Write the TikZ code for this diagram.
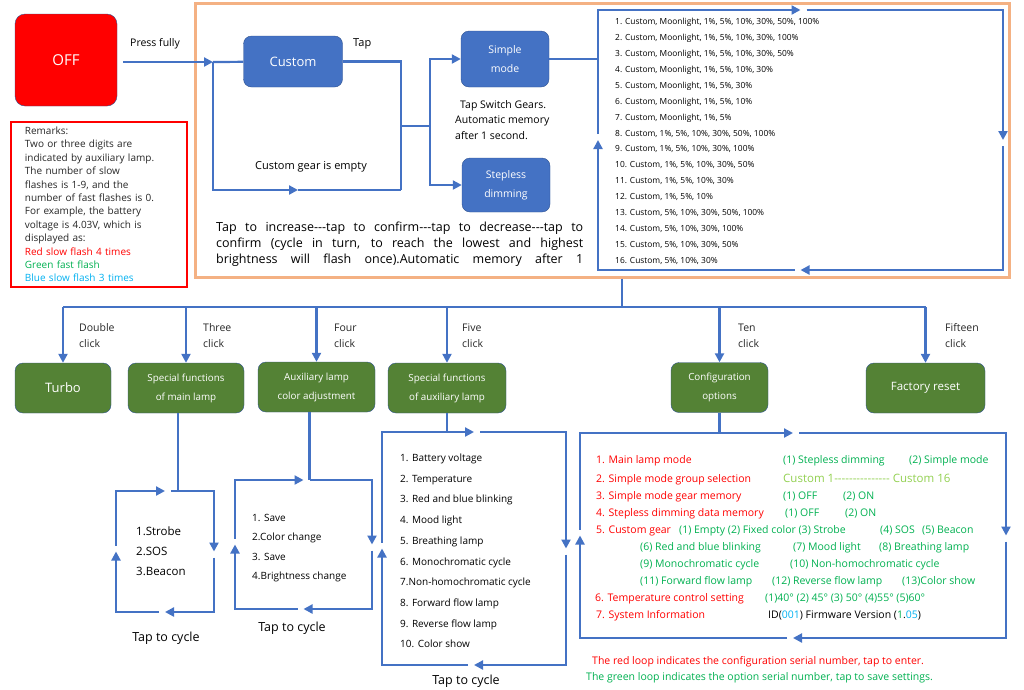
\documentclass[tikz,border=0pt]{standalone}
\usepackage{fontspec}
\setmainfont{Open Sans}
\usetikzlibrary{arrows.meta,calc}

\definecolor{flowblue}{HTML}{4472C4}
\definecolor{boxline}{HTML}{2F528F}
\definecolor{lampgreen}{HTML}{548235}
\definecolor{framepeach}{HTML}{F4B183}
\definecolor{optgreen}{HTML}{00B050}
\definecolor{lightgreen}{HTML}{92D050}
\definecolor{infoblue}{HTML}{00B0F0}
\definecolor{warnred}{HTML}{FF0000}

\tikzset{
  flow/.style={draw=flowblue, line width=2.2pt},
  arr/.style={-{Triangle[length=9pt,width=9pt]}},
  bluebox/.style={draw=boxline, fill=flowblue, rounded corners=8pt, text=white, align=center},
  greenbox/.style={draw=boxline, fill=lampgreen, rounded corners=8pt, text=white, align=center, minimum height=50pt},
  txt/.style={inner sep=0pt, anchor=west, text height=0.72em, text depth=0.22em},
  clicklabel/.style={anchor=west, align=left, inner sep=0pt, text=black!85, font=\fontsize{10.5}{16}\selectfont},
  redtxt/.style={txt, text=warnred},
  greentxt/.style={txt, text=optgreen}
}

% one "tap to cycle" loop: name, left, top, right, bottom
\newcommand{\tapcycle}[5]{%
  \coordinate (#1-nw) at (#2,#3);
  \coordinate (#1-ne) at (#4,#3);
  \coordinate (#1-se) at (#4,#5);
  \coordinate (#1-sw) at (#2,#5);
  \coordinate (#1-n) at ($(#1-nw)!0.5!(#1-ne)$);
  \coordinate (#1-e) at ($(#1-ne)!0.5!(#1-se)$);
  \coordinate (#1-s) at ($(#1-sw)!0.5!(#1-se)$);
  \coordinate (#1-w) at ($(#1-nw)!0.5!(#1-sw)$);
  \draw[flow,arr] ($(#1-w)+(0,-6)$) -- (#1-nw) -- (#1-n);
  \draw[flow,arr] ($(#1-n)+(6,0)$) -- (#1-ne) -- (#1-e);
  \draw[flow,arr] ($(#1-e)+(0,6)$) -- (#1-se) -- (#1-s);
  \draw[flow,arr] ($(#1-s)+(-6,0)$) -- (#1-sw) -- (#1-w);
}

\begin{document}
\begin{tikzpicture}[x=1pt,y=-1pt]
  \useasboundingbox (0,0) rectangle (1024,689);

  % start and remarks
  \node[draw=boxline, fill=warnred, rounded corners=10pt, text=white, minimum width=102pt, minimum height=92pt, font=\fontsize{15}{18}\selectfont] (off) at (66,60) {OFF};
  \node[anchor=west, inner sep=0pt, font=\fontsize{10.5}{13}\selectfont] (press) at (130,44) {Press fully};
  \node[draw=warnred, line width=1.8pt, anchor=north west, text width=148pt, inner xsep=14pt, inner ysep=5pt, align=left, text=black!85, font=\fontsize{10}{13.4}\selectfont] (remarks) at (10,121) {Remarks:\\Two or three digits are\\indicated by auxiliary lamp.\\The number of slow\\flashes is 1-9, and the\\number of fast flashes is 0.\\For example, the battery\\voltage is 4.03V, which is\\displayed as:\\\textcolor{warnred}{Red slow flash 4 times}\\\textcolor{optgreen}{Green fast flash}\\\textcolor{infoblue}{Blue slow flash 3 times}};

  % tap menu
  \node[draw=framepeach, line width=3pt, minimum width=814pt, minimum height=274pt] (modes) at (602,140) {};
  \node[bluebox, minimum width=99pt, minimum height=51pt, font=\fontsize{13}{16}\selectfont] (custom) at (293,61.5) {Custom};
  \node[anchor=west, inner sep=0pt, font=\fontsize{11}{13}\selectfont] (tap) at (353,44) {Tap};
  \node[bluebox, minimum width=88pt, minimum height=56pt, font=\fontsize{10.5}{19}\selectfont] (simple) at (505,59) {Simple\\mode};
  \node[bluebox, minimum width=88pt, minimum height=54pt, font=\fontsize{10.5}{19}\selectfont] (stepless) at (506,185) {Stepless\\dimming};
  \node[anchor=north west, inner sep=0pt, align=left, font=\fontsize{10.5}{15.5}\selectfont] (gears) at (455,100) {\hspace{5pt}Tap Switch Gears.\\Automatic memory\\after 1 second.};
  \node[anchor=center, inner sep=0pt, font=\fontsize{11}{13}\selectfont] (emptylabel) at (311,167) {Custom gear is empty};
  \node[anchor=north west, inner sep=0pt, text width=367pt, align=justify, font=\fontsize{12.5}{15.8}\selectfont] (stepnote) at (216,222) {Tap to increase-{}-{}-tap to confirm-{}-{}-tap to decrease-{}-{}-tap to\linebreak confirm (cycle in turn, to reach the lowest and highest\linebreak brightness will flash once).Automatic memory after 1\parfillskip=0pt\par};

  \coordinate (entry) at (213,62);
  \coordinate (emptytip) at (298,190);
  \coordinate (emptyend) at (401,190);
  \coordinate (join) at (401,126);
  \coordinate (split) at (430,126);
  \draw[flow,arr] ([xshift=6pt]off.east |- entry) -- (entry);
  \draw[flow] (entry) -- (custom);
  \draw[flow,arr] (entry) |- (emptytip);
  \draw[flow] (emptytip) -- (emptyend);
  \draw[flow] (custom.east) -| (emptyend);
  \draw[flow] (join) -- (split);
  \draw[flow,arr] (split) |- (simple.west);
  \draw[flow,arr] (split) |- (stepless.west);

  % simple mode groups
  \tapcycle{groups}{598}{10}{1003}{270}
  \draw[flow] (simple.east) -- (simple.east -| groups-nw);
  \foreach \lvl [count=\i] in {{Moonlight, 1\%, 5\%, 10\%, 30\%, 50\%, 100\%},{Moonlight, 1\%, 5\%, 10\%, 30\%, 100\%},{Moonlight, 1\%, 5\%, 10\%, 30\%, 50\%},{Moonlight, 1\%, 5\%, 10\%, 30\%},{Moonlight, 1\%, 5\%, 30\%},{Moonlight, 1\%, 5\%, 10\%},{Moonlight, 1\%, 5\%},{1\%, 5\%, 10\%, 30\%, 50\%, 100\%},{1\%, 5\%, 10\%, 30\%, 100\%},{1\%, 5\%, 10\%, 30\%, 50\%},{1\%, 5\%, 10\%, 30\%},{1\%, 5\%, 10\%},{5\%, 10\%, 30\%, 50\%, 100\%},{5\%, 10\%, 30\%, 100\%},{5\%, 10\%, 30\%, 50\%},{5\%, 10\%, 30\%}}
    \node[txt, font=\fontsize{8.4}{10}\selectfont] (group\i) at (615,{22+15.93*(\i-1)}) {\i. Custom, \lvl};

  % click menu
  \coordinate (trunk) at (622,307);
  \node[greenbox, minimum width=96pt, font=\fontsize{13}{16}\selectfont] (turbo) at (63,388) {Turbo};
  \node[greenbox, minimum width=116pt, font=\fontsize{9.8}{19}\selectfont] (mainfx) at (186,388) {Special functions\\of main lamp};
  \node[greenbox, minimum width=117pt, font=\fontsize{9.8}{19}\selectfont] (auxcolor) at (316.5,387) {Auxiliary lamp\\color adjustment};
  \node[greenbox, minimum width=118pt, font=\fontsize{9.8}{19}\selectfont] (auxfx) at (447,388) {Special functions\\of auxiliary lamp};
  \node[greenbox, minimum width=97pt, font=\fontsize{9.8}{19}\selectfont] (config) at (719.5,387.5) {Configuration\\options};
  \node[greenbox, minimum width=119pt, font=\fontsize{11.5}{14}\selectfont] (factory) at (925.5,388) {Factory reset};
  \draw[flow] (modes.south -| trunk) -- (trunk);
  \draw[flow] (turbo.north |- trunk) -- (factory.north |- trunk);
  \foreach \n in {turbo,mainfx,auxcolor,auxfx,config,factory}
    \draw[flow,arr] (\n.north |- trunk) -- (\n.north);
  \node[clicklabel] (c2) at (79,336) {Double\\click};
  \node[clicklabel] (c3) at (203,336) {Three\\click};
  \node[clicklabel] (c4) at (334,336) {Four\\click};
  \node[clicklabel] (c5) at (462,336) {Five\\click};
  \node[clicklabel] (c10) at (738,336) {Ten\\click};
  \node[clicklabel] (c15) at (945,336) {Fifteen\\click};

  % main lamp functions
  \tapcycle{strobe}{116}{491}{214}{612}
  \draw[flow] ([xshift=-8pt]mainfx.south) -- ([xshift=-8pt]mainfx.south |- strobe-nw);
  \foreach \fx [count=\i] in {1.Strobe,2.SOS,3.Beacon}
    \node[txt, font=\fontsize{11.5}{14}\selectfont] (strobe\i) at (136,{533+20*(\i-1)}) {\fx};
  \node[font=\fontsize{12.5}{15}\selectfont] (tapa) at (166,638) {Tap to cycle};

  % auxiliary colour
  \tapcycle{color}{235}{480}{372}{609}
  \draw[flow] ([xshift=-7pt]auxcolor.south) -- ([xshift=-7pt]auxcolor.south |- color-nw);
  \foreach \fx [count=\i] in {1. Save,2.Color change,3. Save,4.Brightness change}
    \node[txt, font=\fontsize{10}{12}\selectfont] (color\i) at (252,{519+19.3*(\i-1)}) {\fx};
  \node[font=\fontsize{12.5}{15}\selectfont] (tapb) at (292,628) {Tap to cycle};

  % auxiliary functions
  \tapcycle{auxlist}{382}{432}{566}{665}
  \draw[flow] (auxfx.south) -- (auxfx.south |- auxlist-nw);
  \foreach \fx [count=\i] in {1. Battery voltage,2. Temperature,3. Red and blue blinking,4. Mood light,5. Breathing lamp,6. Monochromatic cycle,7.Non-homochromatic cycle,8. Forward flow lamp,9. Reverse flow lamp,10. Color show}
    \node[txt, font=\fontsize{10}{12}\selectfont] (aux\i) at (400,{459+20.7*(\i-1)}) {\fx};
  \node[font=\fontsize{12.5}{15}\selectfont] (tapc) at (466,681) {Tap to cycle};

  % configuration
  \tapcycle{setup}{580}{433}{1006}{638}
  \draw[flow] (config.south) -- (config.south |- setup-nw);
  \begin{scope}[font=\fontsize{10.5}{12}\selectfont]
    \node[redtxt] (s1) at (596,461) {1. Main lamp mode};
    \node[greentxt] (s1a) at (783,461) {(1) Stepless dimming};
    \node[greentxt] (s1b) at (909,461) {(2) Simple mode};
    \node[redtxt] (s2) at (596,480) {2. Simple mode group selection};
    \node[txt, text=lightgreen, font=\fontsize{11.5}{13}\selectfont] (s2a) at (783,480) {Custom 1-{}-{}-{}-{}-{}-{}-{}-{}-{}-{}-{}-{}-{}-{}-{} Custom 16};
    \node[redtxt] (s3) at (596,497) {3. Simple mode gear memory};
    \node[greentxt] (s3a) at (783,497) {(1) OFF};
    \node[greentxt] (s3b) at (843,497) {(2) ON};
    \node[redtxt] (s4) at (596,514) {4. Stepless dimming data memory};
    \node[greentxt] (s4a) at (785,514) {(1) OFF};
    \node[greentxt] (s4b) at (845,514) {(2) ON};
    \node[redtxt] (s5) at (596,531) {5. Custom gear};
    \node[greentxt] (s5a) at (679,531) {(1) Empty (2) Fixed color (3) Strobe};
    \node[greentxt] (s5b) at (880,531) {(4) SOS};
    \node[greentxt] (s5c) at (922,531) {(5) Beacon};
    \node[greentxt] (s5d) at (640,548) {(6) Red and blue blinking};
    \node[greentxt] (s5e) at (793,548) {(7) Mood light};
    \node[greentxt] (s5f) at (879,548) {(8) Breathing lamp};
    \node[greentxt] (s5g) at (640,565) {(9) Monochromatic cycle};
    \node[greentxt] (s5h) at (790,565) {(10) Non-homochromatic cycle};
    \node[greentxt] (s5i) at (640,582) {(11) Forward flow lamp};
    \node[greentxt] (s5j) at (772,582) {(12) Reverse flow lamp};
    \node[greentxt] (s5k) at (902,582) {(13)Color show};
    \node[redtxt] (s6) at (595,599) {6. Temperature control setting};
    \node[greentxt] (s6a) at (765,599) {(1)40° (2) 45° (3) 50° (4)55° (5)60°};
    \node[redtxt] (s7) at (596,616) {7. System Information};
    \node[txt] (s7a) at (768,616) {ID(\textcolor{infoblue}{001}) Firmware Version (\textcolor{optgreen}{1}.\textcolor{infoblue}{05})};
    \node[redtxt] (redloop) at (592,662) {The red loop indicates the configuration serial number, tap to enter.};
    \node[greentxt] (greenloop) at (586,678) {The green loop indicates the option serial number, tap to save settings.};
  \end{scope}
\end{tikzpicture}
\end{document}
